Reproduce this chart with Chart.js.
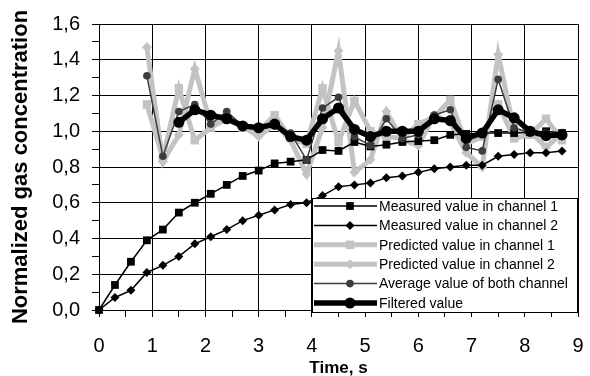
<!DOCTYPE html>
<html>
<head>
<meta charset="utf-8">
<script src="https://cdn.jsdelivr.net/npm/chart.js@4.4.1/dist/chart.umd.min.js"></script>
<style>
  html, body { margin: 0; padding: 0; background: #fff; }
</style>
</head>
<body>
<canvas id="grafica" width="590" height="376"></canvas>
<script>
// Datos (tiempo en s, concentracion normalizada)
const tiempos = [0, 0.3, 0.6, 0.9, 1.2, 1.5, 1.8, 2.1, 2.4, 2.7, 3.0, 3.3, 3.6, 3.9, 4.2,
                 4.5, 4.8, 5.1, 5.4, 5.7, 6.0, 6.3, 6.6, 6.9, 7.2, 7.5, 7.8, 8.1, 8.4, 8.7];

const medidoCanal1 = [0, 0.14, 0.27, 0.39, 0.45, 0.545, 0.60, 0.65, 0.70, 0.75, 0.78, 0.82, 0.83, 0.84, 0.895,
                      0.89, 0.94, 0.915, 0.925, 0.94, 0.945, 0.95, 0.98, 0.985, 0.99, 0.99, 0.99, 0.995, 1.0, 0.99];
const medidoCanal2 = [0, 0.07, 0.11, 0.21, 0.25, 0.30, 0.37, 0.41, 0.45, 0.50, 0.53, 0.56, 0.59, 0.60, 0.64,
                      0.69, 0.70, 0.71, 0.74, 0.75, 0.77, 0.79, 0.80, 0.81, 0.81, 0.86, 0.87, 0.88, 0.88, 0.89];
const predichoCanal1 = [null, null, null, 1.15, 0.85, 1.24, 0.95, 1.02, 1.07, 1.02, 1.00, 1.09, 0.96, 0.93, 1.24,
                        0.94, 1.17, 1.00, 0.97, 0.96, 1.04, 1.08, 1.175, 0.93, 0.97, 1.15, 0.96, 0.98, 1.07, 0.95];
const predichoCanal2 = [null, null, null, 1.47, 0.83, 0.98, 1.35, 1.04, 1.08, 1.03, 0.97, 1.04, 0.95, 0.76, 1.02,
                        1.45, 0.77, 0.84, 1.11, 0.95, 0.92, 1.09, 1.05, 0.88, 0.80, 1.43, 1.00, 1.00, 0.91, 0.99];
const promedio = [null, null, null, 1.31, 0.86, 1.11, 1.15, 1.04, 1.11, 1.03, 1.01, 1.03, 0.99, 0.84, 1.13,
                  1.19, 0.97, 0.92, 1.07, 0.96, 0.98, 1.09, 1.12, 0.91, 0.89, 1.29, 1.02, 0.99, 0.99, 0.97];
const filtrado = [null, null, null, null, null, 1.05, 1.12, 1.09, 1.07, 1.03, 1.02, 1.04, 0.97, 0.95, 1.07,
                  1.13, 1.01, 0.97, 1.00, 1.00, 1.00, 1.07, 1.06, 0.96, 0.99, 1.12, 1.075, 1.00, 0.975, 0.98];

const nombresSeries = [
  'Measured value in channel 1',
  'Measured value in channel 2',
  'Predicted value in channel 1',
  'Predicted value in channel 2',
  'Average value of both channel',
  'Filtered value'
];

const ticksX = [0, 1, 2, 3, 4, 5, 6, 7, 8, 9];
const ticksY = ['0,0', '0,2', '0,4', '0,6', '0,8', '1,0', '1,2', '1,4', '1,6'];

const FUENTE = "'Liberation Sans', Arial, sans-serif";
const GRIS_CLARO = '#c3c3c3';
const GRIS_OSCURO = '#3c3c3c';

function puntos(valores) {
  return tiempos.map((t, i) => ({ x: t, y: valores[i] }));
}

function esMayorY(v) {
  return Math.round(v * 10) % 2 === 0;
}

// Leyenda dibujada dentro del area de la grafica
const leyendaInterna = {
  id: 'leyendaInterna',
  afterDraw(chart) {
    const ctx = chart.ctx;
    const area = chart.chartArea;
    const w = 266, h = 115;
    const x0 = area.right - w, y0 = area.bottom - h + 3;
    ctx.save();
    ctx.fillStyle = '#fff';
    ctx.fillRect(x0, y0, w, h);
    ctx.strokeStyle = '#000';
    ctx.lineWidth = 1;
    ctx.strokeRect(x0 + 0.5, y0 + 0.5, w - 1, h - 1);

    chart.data.datasets.forEach((ds, i) => {
      const y = y0 + 8 + i * 19.4;
      const xm = x0 + 38;
      ctx.strokeStyle = ds.borderColor;
      ctx.lineWidth = ds.borderWidth;
      ctx.beginPath();
      ctx.moveTo(x0 + 2, y);
      ctx.lineTo(x0 + 65, y);
      ctx.stroke();

      const r = ds.pointRadius;
      ctx.fillStyle = ds.pointBackgroundColor;
      ctx.beginPath();
      if (ds.pointStyle === 'rect') {
        const s = r * Math.SQRT1_2;
        ctx.rect(xm - s, y - s, 2 * s, 2 * s);
      } else if (ds.pointStyle === 'rectRot') {
        ctx.moveTo(xm, y - r);
        ctx.lineTo(xm + r, y);
        ctx.lineTo(xm, y + r);
        ctx.lineTo(xm - r, y);
        ctx.closePath();
      } else {
        ctx.arc(xm, y, r, 0, Math.PI * 2);
      }
      ctx.fill();

      ctx.fillStyle = '#000';
      ctx.font = '14px ' + FUENTE;
      ctx.textBaseline = 'middle';
      ctx.textAlign = 'left';
      ctx.fillText(ds.label, x0 + 67, y + 1);
    });
    ctx.restore();
  }
};

function serie(label, valores, color, ancho, estilo, radio, orden) {
  return {
    label,
    data: puntos(valores),
    borderColor: color,
    backgroundColor: color,
    pointBackgroundColor: color,
    pointBorderColor: color,
    borderWidth: ancho,
    pointStyle: estilo,
    pointRadius: radio,
    pointBorderWidth: 0,
    tension: 0,
    spanGaps: false,
    clip: 12,
    order: orden
  };
}

const ctx = document.getElementById('grafica').getContext('2d');

new Chart(ctx, {
  type: 'line',
  data: {
    datasets: [
      serie(nombresSeries[0], medidoCanal1, '#000', 1.5, 'rect', 5.5, 2),
      serie(nombresSeries[1], medidoCanal2, '#000', 1.5, 'rectRot', 4.5, 2),
      serie(nombresSeries[2], predichoCanal1, GRIS_CLARO, 5, 'rect', 6, 4),
      serie(nombresSeries[3], predichoCanal2, GRIS_CLARO, 5, 'rectRot', 5, 3),
      serie(nombresSeries[4], promedio, GRIS_OSCURO, 1.5, 'circle', 3.8, 1),
      serie(nombresSeries[5], filtrado, '#000', 5.5, 'circle', 5.5, 0)
    ]
  },
  options: {
    responsive: false,
    animation: false,
    events: [],
    layout: { padding: { top: 17, right: 12, left: 0, bottom: 0 } },
    plugins: {
      legend: { display: false },
      tooltip: { enabled: false }
    },
    scales: {
      x: {
        type: 'linear',
        min: 0,
        max: 9,
        afterFit: s => {
          s.height = 66;
          s.paddingLeft = 0;
          s.paddingRight = 0;
        },
        afterBuildTicks: s => {
          const t = [];
          for (let k = 0; k <= 18; k++) t.push({ value: k / 2 });
          s.ticks = t;
        },
        ticks: {
          autoSkip: false,
          maxRotation: 0,
          padding: 17,
          color: '#000',
          font: { family: FUENTE, size: 20 },
          callback: v => (Number.isInteger(v) ? String(ticksX[v]) : '')
        },
        grid: {
          color: c => (c.tick && Number.isInteger(c.tick.value) ? '#000' : 'rgba(0,0,0,0)'),
          tickColor: '#000',
          tickLength: 7,
          lineWidth: 1
        },
        border: { color: '#000', width: 1 },
        title: {
          display: true,
          text: 'Time, s',
          color: '#000',
          font: { family: FUENTE, size: 17, weight: 'bold' },
          padding: { top: 0, bottom: -3 }
        }
      },
      y: {
        min: 0,
        max: 1.6,
        afterFit: s => { s.width = 99; },
        afterBuildTicks: s => {
          const t = [];
          for (let k = 0; k <= 16; k++) t.push({ value: k / 10 });
          s.ticks = t;
        },
        ticks: {
          autoSkip: false,
          padding: 12,
          color: '#000',
          font: { family: FUENTE, size: 20 },
          callback: v => (esMayorY(v) ? ticksY[Math.round(v * 5)] : '')
        },
        grid: {
          color: c => (c.tick && esMayorY(c.tick.value) ? '#000' : 'rgba(0,0,0,0)'),
          tickColor: '#000',
          tickLength: 7,
          lineWidth: 1
        },
        border: { color: '#000', width: 1 },
        title: {
          display: true,
          text: 'Normalized gas concentration',
          color: '#000',
          font: { family: FUENTE, size: 22, weight: 'bold' },
          padding: { top: 8, bottom: 0 }
        }
      }
    }
  },
  plugins: [leyendaInterna]
});
</script>
</body>
</html>
